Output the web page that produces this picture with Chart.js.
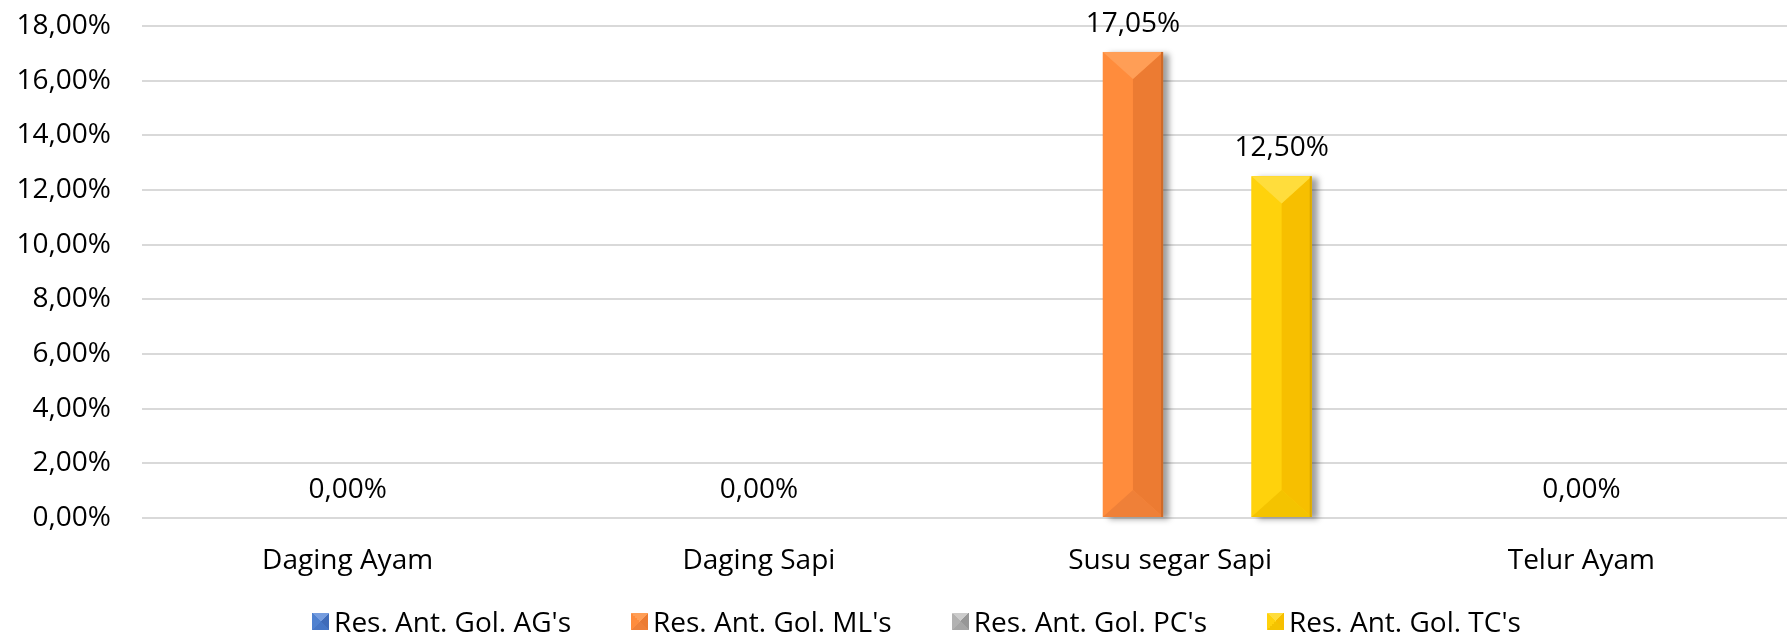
<!DOCTYPE html>
<html>
<head>
<meta charset="utf-8">
<script src="https://cdn.jsdelivr.net/npm/chart.js@4"></script>
<style>
    html, body { margin: 0; padding: 0; background: #fff; }
    #wrap { position: relative; width: 1787px; height: 635px; overflow: hidden; }
    #legend {
        position: absolute; left: 0; width: 1833px; top: 605px; height: 32px;
        display: flex; justify-content: center; align-items: center; gap: 60px;
        font-family: 'Open Sans'; font-size: 28px; line-height: 32px; color: #000;
        white-space: nowrap;
    }
    .item { display: flex; align-items: center; }
    .swatch { width: 17px; height: 17px; margin-right: 5px; }
</style>
</head>
<body>
<div id="wrap">
    <canvas id="chart" width="1787" height="635"></canvas>
    <div id="legend"></div>
</div>
<script>
// Data
const categories = ['Daging Ayam', 'Daging Sapi', 'Susu segar Sapi', 'Telur Ayam'];
const seriesNames = ["Res. Ant. Gol. AG's", "Res. Ant. Gol. ML's", "Res. Ant. Gol. PC's", "Res. Ant. Gol. TC's"];
const agValues = [0, 0, 0, 0];
const mlValues = [0, 0, 17.05, 0];
const pcValues = [0, 0, 0, 0];
const tcValues = [0, 0, 12.50, 0];
const yMax = 18;
const yStep = 2;

// Bevel face colours per series: base (left face), top, right, bottom, right edge
const palettes = [
    { base: '#4F81D0', top: '#769DDF', right: '#3F6BB9', bottom: '#4676C6', edge: '#355C9E' },
    { base: '#FF8C3C', top: '#FF9E56', right: '#EC7B32', bottom: '#EF8038', edge: '#CF6A28' },
    { base: '#B2B2B2', top: '#CCCCCC', right: '#979797', bottom: '#A6A6A6', edge: '#828282' },
    { base: '#FFD20C', top: '#FFDD3C', right: '#F7BF00', bottom: '#F4C300', edge: '#D9A800' }
];

Chart.defaults.font.family = "'Open Sans'";
Chart.defaults.font.size = 28;
Chart.defaults.color = '#000';

// 17.05 -> "17,05%"
function fmt(v) {
    return v.toFixed(2).replace('.', ',') + '%';
}

// Excel-like "angle" bevel on each bar + soft shadow
const bevelBars = {
    id: 'bevelBars',
    beforeDatasetsDraw(chart) {
        const ctx = chart.ctx;
        ctx.save();
        ctx.shadowColor = 'rgba(0, 0, 0, 0.38)';
        ctx.shadowBlur = 6;
        ctx.shadowOffsetX = 6;
        ctx.shadowOffsetY = 2;
        chart.data.datasets.forEach((ds, di) => {
            chart.getDatasetMeta(di).data.forEach(bar => {
                const h = bar.base - bar.y;
                if (h < 1) return;
                ctx.fillStyle = palettes[di].base;
                ctx.fillRect(bar.x - bar.width / 2, bar.y, bar.width, h);
            });
        });
        ctx.restore();
    },
    afterDatasetsDraw(chart) {
        const ctx = chart.ctx;
        ctx.save();
        chart.data.datasets.forEach((ds, di) => {
            const p = palettes[di];
            chart.getDatasetMeta(di).data.forEach(bar => {
                const h = bar.base - bar.y;
                if (h < 1) return;
                const l = bar.x - bar.width / 2, r = bar.x + bar.width / 2;
                const t = bar.y, b = bar.base;
                const d = Math.min(bar.width / 2 * 0.9, h / 2);
                const face = (pts, color) => {
                    ctx.beginPath();
                    ctx.moveTo(pts[0][0], pts[0][1]);
                    pts.slice(1).forEach(q => ctx.lineTo(q[0], q[1]));
                    ctx.closePath();
                    ctx.fillStyle = color;
                    ctx.fill();
                };
                face([[r, t], [r, b], [bar.x, b - d], [bar.x, t + d]], p.right);
                face([[l, b], [r, b], [bar.x, b - d]], p.bottom);
                face([[l, t], [r, t], [bar.x, t + d]], p.top);
                ctx.fillStyle = p.edge;
                ctx.fillRect(r - 2, t, 2, h);
            });
        });
        ctx.restore();
    }
};

// value labels; a category with only zeros gets one "0,00%" at its centre
const valueLabels = {
    id: 'valueLabels',
    afterDatasetsDraw(chart) {
        const ctx = chart.ctx;
        const xs = chart.scales.x, ys = chart.scales.y;
        ctx.save();
        ctx.font = "28px 'Open Sans'";
        ctx.fillStyle = '#000';
        ctx.textAlign = 'center';
        ctx.textBaseline = 'alphabetic';
        chart.data.datasets.forEach((ds, di) => {
            chart.getDatasetMeta(di).data.forEach((bar, i) => {
                if (ds.data[i] > 0) ctx.fillText(fmt(ds.data[i]), bar.x, bar.y - 20);
            });
        });
        categories.forEach((c, i) => {
            const allZero = chart.data.datasets.every(ds => !ds.data[i]);
            if (allZero) ctx.fillText(fmt(0), xs.getPixelForValue(i), ys.getPixelForValue(0) - 20);
        });
        ctx.restore();
    }
};

const seriesValues = [agValues, mlValues, pcValues, tcValues];

new Chart(document.getElementById('chart'), {
    type: 'bar',
    data: {
        labels: categories,
        datasets: seriesNames.map((name, i) => ({
            label: name,
            data: seriesValues[i],
            backgroundColor: palettes[i].base,
            borderWidth: 0,
            categoryPercentage: 0.723,
            barPercentage: 0.81
        }))
    },
    options: {
        responsive: false,
        devicePixelRatio: 1,
        animation: false,
        layout: { padding: { left: 0, right: -9, top: 26, bottom: 57 } },
        plugins: {
            legend: { display: false },
            tooltip: { enabled: false }
        },
        scales: {
            x: {
                afterFit: scale => {
                    scale.height = 60;
                    scale.paddingLeft = 0;
                    scale.paddingRight = 0;
                },
                grid: { display: false, drawTicks: false },
                border: { display: false },
                ticks: { padding: 26, maxRotation: 0, autoSkip: false }
            },
            y: {
                min: 0,
                max: yMax,
                afterFit: scale => {
                    scale.width = 142;
                    scale.paddingTop = 0;
                    scale.paddingBottom = 0;
                },
                grid: { color: '#D9D9D9', lineWidth: 2, drawTicks: false },
                border: { display: false },
                ticks: {
                    stepSize: yStep,
                    padding: 31,
                    callback: v => fmt(v)
                }
            }
        }
    },
    plugins: [bevelBars, valueLabels]
});

// HTML legend
const legend = document.getElementById('legend');
seriesNames.forEach((name, i) => {
    const p = palettes[i];
    const item = document.createElement('div');
    item.className = 'item';
    const sw = document.createElement('span');
    sw.className = 'swatch';
    sw.style.background = `conic-gradient(from -45deg, ${p.top} 0deg 90deg, ${p.right} 90deg 180deg, ${p.bottom} 180deg 270deg, ${p.base} 270deg 360deg)`;
    const txt = document.createElement('span');
    txt.textContent = name;
    item.appendChild(sw);
    item.appendChild(txt);
    legend.appendChild(item);
});
</script>
</body>
</html>
